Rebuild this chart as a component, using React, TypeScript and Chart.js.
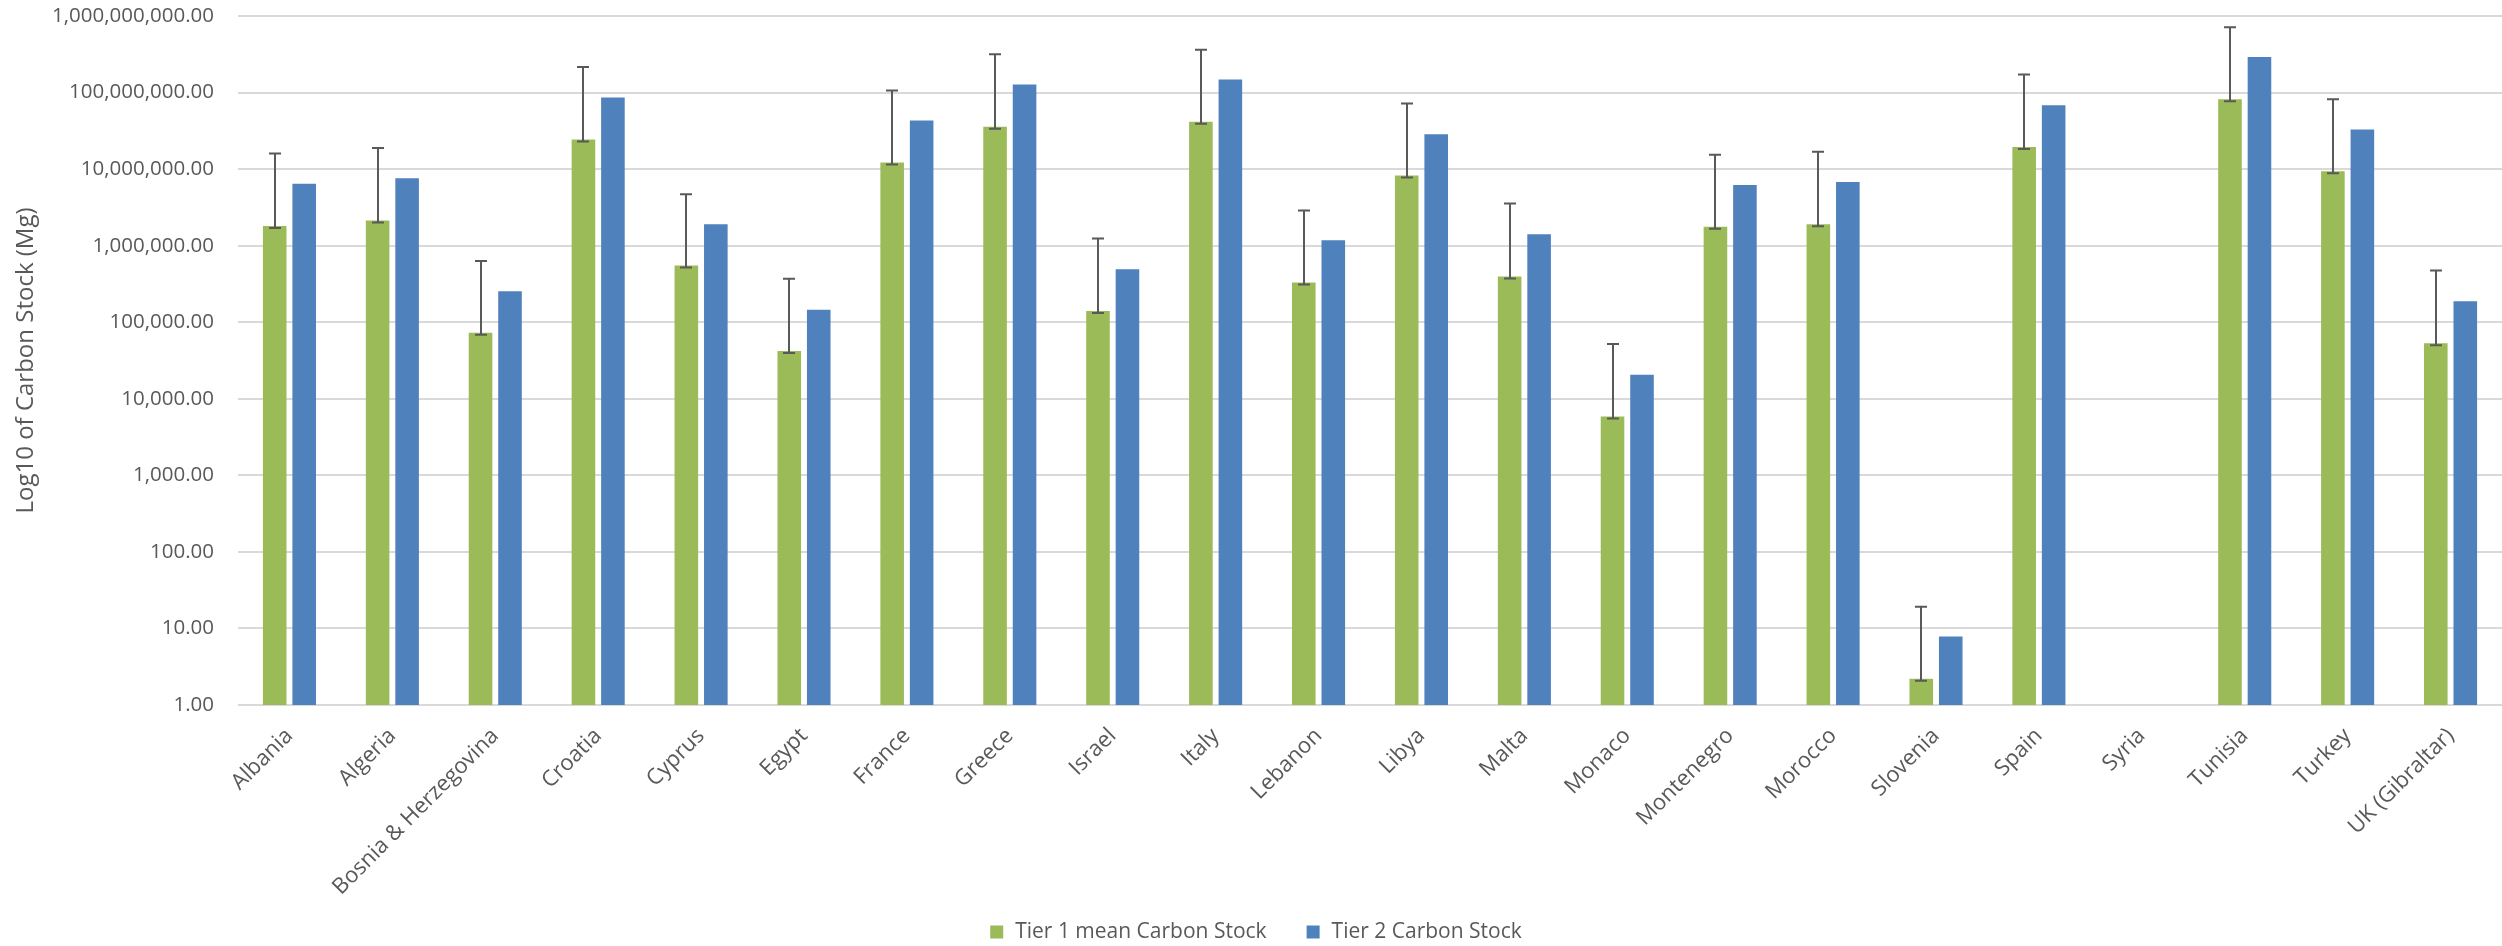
import React, { useEffect, useRef } from "react";
import { Chart, registerables } from "chart.js";

Chart.register(...registerables);

const categories = [
  "Albania", "Algeria", "Bosnia & Herzegovina", "Croatia", "Cyprus", "Egypt",
  "France", "Greece", "Israel", "Italy", "Lebanon", "Libya", "Malta", "Monaco",
  "Montenegro", "Morocco", "Slovenia", "Spain", "Syria", "Tunisia", "Turkey", "UK (Gibraltar)",
];

const tier1Mean = [
  1.81e6, 2.13e6, 7.3e4, 2.43e7, 5.5e5, 4.2e4,
  1.22e7, 3.57e7, 1.4e5, 4.15e7, 3.3e5, 8.26e6, 3.95e5, 5.85e3,
  1.76e6, 1.91e6, 2.2, 1.94e7, null, 8.17e7, 9.35e6, 5.33e4,
];

const tier1Upper = [
  1.6e7, 1.89e7, 6.3e5, 2.15e8, 4.69e6, 3.69e5,
  1.06e8, 3.16e8, 1.24e6, 3.63e8, 2.89e6, 7.2e7, 3.56e6, 5.19e4,
  1.54e7, 1.69e7, 19.2, 1.72e8, null, 7.15e8, 8.17e7, 4.73e5,
];

const tier2 = [
  6.44e6, 7.6e6, 2.54e5, 8.6e7, 1.91e6, 1.46e5,
  4.33e7, 1.27e8, 4.93e5, 1.48e8, 1.18e6, 2.86e7, 1.41e6, 2.06e4,
  6.18e6, 6.8e6, 7.83, 6.84e7, null, 2.91e8, 3.29e7, 1.88e5,
];

const yTicks = [1, 10, 100, 1e3, 1e4, 1e5, 1e6, 1e7, 1e8, 1e9];

const seriesNames = ["Tier 1 mean Carbon Stock", "Tier 2 Carbon Stock"];
const seriesColors = ["#9BBB59", "#4F81BD"];

const FONT = "'Open Sans', 'Noto Sans', sans-serif";
const TEXT = "#595959";

const errorBarPlugin = {
  id: "errorBars",
  afterDatasetsDraw(chart: any) {
    const ctx = chart.ctx;
    const meta = chart.getDatasetMeta(0);
    const ys = chart.scales.y;
    ctx.save();
    ctx.strokeStyle = "#595959";
    ctx.lineWidth = 2;
    meta.data.forEach((bar: any, i: number) => {
      const v = tier1Mean[i];
      const u = tier1Upper[i];
      if (v == null || u == null) return;
      const x = Math.round(bar.x);
      const y0 = ys.getPixelForValue(v) + 2;
      const y1 = ys.getPixelForValue(u);
      const cap = 6;
      ctx.beginPath();
      ctx.moveTo(x, y0);
      ctx.lineTo(x, y1);
      ctx.moveTo(x - cap, y1);
      ctx.lineTo(x + cap, y1);
      ctx.moveTo(x - cap, y0);
      ctx.lineTo(x + cap, y0);
      ctx.stroke();
    });
    ctx.restore();
  },
};

const legendPlugin = {
  id: "customLegend",
  afterDraw(chart: any) {
    const ctx = chart.ctx;
    ctx.save();
    ctx.font = `21px ${FONT}`;
    ctx.textBaseline = "middle";
    const box = 13;
    const gap = 12;
    const spacing = 40;
    const widths = seriesNames.map((n) => ctx.measureText(n).width);
    const total = widths.reduce((a, w) => a + box + gap + w, 0) + spacing * (seriesNames.length - 1);
    let x = chart.width / 2 - total / 2 + 5;
    const y = 932;
    seriesNames.forEach((n, i) => {
      ctx.fillStyle = seriesColors[i];
      ctx.fillRect(x, y - box / 2, box, box);
      x += box + gap;
      ctx.fillStyle = TEXT;
      ctx.fillText(n, x, y);
      x += widths[i] + spacing;
    });
    ctx.restore();
  },
};

export default function App() {
  const ref = useRef<HTMLCanvasElement>(null);
  useEffect(() => {
    if (!ref.current) return;
    const chart = new Chart(ref.current, {
      type: "bar",
      data: {
        labels: categories,
        datasets: [
          {
            label: seriesNames[0],
            data: tier1Mean as any,
            backgroundColor: seriesColors[0],
            borderWidth: 0,
            categoryPercentage: 0.573,
            barPercentage: 0.8,
          },
          {
            label: seriesNames[1],
            data: tier2 as any,
            backgroundColor: seriesColors[1],
            borderWidth: 0,
            categoryPercentage: 0.573,
            barPercentage: 0.8,
          },
        ],
      },
      options: {
        responsive: false,
        animation: false,
        devicePixelRatio: 1,
        layout: { padding: { left: 0, right: 0, top: 16, bottom: 10 } },
        plugins: {
          legend: { display: false },
          tooltip: { enabled: false },
        },
        scales: {
          x: {
            grid: { display: false },
            border: { display: false },
            ticks: {
              autoSkip: false,
              minRotation: 45,
              maxRotation: 45,
              padding: 10,
              color: TEXT,
              font: { family: FONT, size: 22 },
            },
            afterFit(scale: any) {
              scale.height = 231;
              scale.paddingLeft = 0;
              scale.paddingRight = 0;
            },
          },
          y: {
            type: "logarithmic",
            min: 1,
            max: 1e9,
            border: { display: false },
            grid: { color: "#D9D9D9", lineWidth: 2, drawTicks: false },
            afterBuildTicks(scale: any) {
              scale.ticks = yTicks.map((v) => ({ value: v }));
            },
            ticks: {
              padding: 24,
              color: TEXT,
              font: { family: FONT, size: 20.5 },
              callback: (v: any) =>
                Number(v).toLocaleString("en-US", { minimumFractionDigits: 2, maximumFractionDigits: 2 }),
            },
            title: {
              display: true,
              text: "Log10 of Carbon Stock (Mg)",
              color: TEXT,
              font: { family: FONT, size: 24 },
              padding: { top: 12, bottom: 0 },
            },
            afterFit(scale: any) {
              scale.width = 238;
              scale.paddingTop = 0;
              scale.paddingBottom = 0;
            },
          },
        },
      },
      plugins: [errorBarPlugin, legendPlugin],
    });
    return () => chart.destroy();
  }, []);
  return (
    <div style={{ position: "fixed", left: 0, top: 0, width: 2502, height: 946, background: "#fff" }}>
      <canvas ref={ref} width={2502} height={946} style={{ display: "block" }} />
    </div>
  );
}
